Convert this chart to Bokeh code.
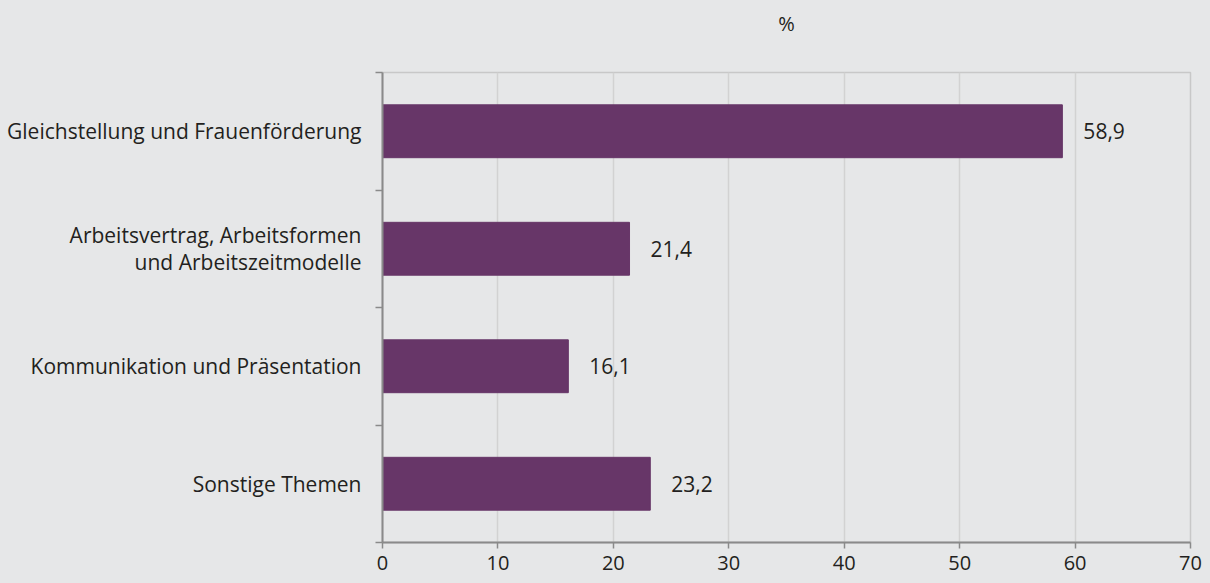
from bokeh.plotting import figure
from bokeh.models import Range1d, FixedTicker, ColumnDataSource, LinearAxis
from bokeh.core.properties import value
from bokeh.embed import file_html
from bokeh.resources import INLINE

categories = [
    "Gleichstellung und Frauenförderung",
    "Arbeitsvertrag, Arbeitsformen\nund Arbeitszeitmodelle",
    "Kommunikation und Präsentation",
    "Sonstige Themen",
]
values = [58.9, 21.4, 16.1, 23.2]
value_labels = ["58,9", "21,4", "16,1", "23,2"]
x_ticks = [0, 10, 20, 30, 40, 50, 60, 70]
unit_label = "%"

BG = "#e6e7e8"
BAR = "#673668"
FONT = "Open Sans"
TXT = "#231f20"

n = len(categories)
ypos = [n - i - 0.5 for i in range(n)]

src = ColumnDataSource(dict(y=ypos, v=values, lab=value_labels))

p = figure(width=1210, height=583, output_backend="svg", toolbar_location=None, title=None,
           x_range=Range1d(0, 70), y_range=Range1d(0, n),
           background_fill_color=BG, border_fill_color=BG,
           min_border_left=382, min_border_right=20, min_border_bottom=41, min_border_top=72)

xa = p.below[0]
ya = p.left[0]

p.outline_line_color = "#c8c8c8"
p.outline_line_width = 1.5

p.hbar(y="y", right="v", left=0, height=0.45, color=BAR, source=src)
p.text(x="v", y="y", text="lab", source=src, x_offset=21, text_baseline="middle",
       text_font=value(FONT), text_font_size="21px", text_color=TXT)

# unit label "%" above the plot area, as the label of an otherwise invisible top axis
top = LinearAxis(ticker=FixedTicker(ticks=[]), axis_label=unit_label,
                 axis_line_color=None, major_tick_line_color=None, minor_tick_line_color=None,
                 major_tick_out=0, major_tick_in=0, minor_tick_out=0, minor_tick_in=0,
                 major_label_standoff=0,
                 axis_label_standoff=36, axis_label_text_font=FONT,
                 axis_label_text_font_size="20px", axis_label_text_font_style="normal",
                 axis_label_text_color=TXT)
p.add_layout(top, "above")

p.xgrid.ticker = FixedTicker(ticks=x_ticks)
p.xgrid.grid_line_color = "#d2d2d2"
p.xgrid.grid_line_width = 1.5
p.ygrid.grid_line_color = None

xa.ticker = FixedTicker(ticks=x_ticks)
xa.axis_line_color = "#8a8a8a"
xa.axis_line_width = 2
xa.major_tick_line_color = "#8a8a8a"
xa.major_tick_line_width = 1.5
xa.major_tick_out = 6
xa.major_tick_in = 0
xa.minor_tick_line_color = None
xa.major_label_text_font = FONT
xa.major_label_text_font_size = "20px"
xa.major_label_text_color = TXT
xa.major_label_standoff = 7

ya.ticker = FixedTicker(ticks=ypos, minor_ticks=list(range(n + 1)))
ya.major_label_overrides = {y: c for y, c in zip(ypos, categories)}
ya.axis_line_color = "#8a8a8a"
ya.axis_line_width = 2
ya.major_tick_line_color = None
ya.major_tick_out = 0
ya.major_tick_in = 0
ya.minor_tick_line_color = "#8a8a8a"
ya.minor_tick_line_width = 1.5
ya.minor_tick_out = 7
ya.minor_tick_in = 0
ya.major_label_text_font = FONT
ya.major_label_text_font_size = "21px"
ya.major_label_text_color = TXT
ya.major_label_text_line_height = 0.97
ya.major_label_standoff = 14

html = file_html(p, INLINE)
html = html.replace("</head>", "<style>html, body { background: %s; }</style>\n</head>" % BG, 1)
open("out.html", "w").write(html)
